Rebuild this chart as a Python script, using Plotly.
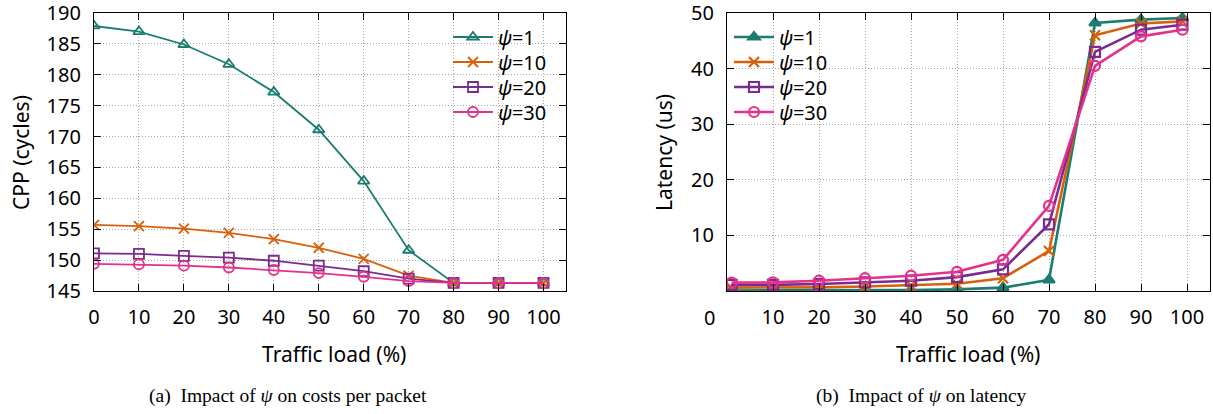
import plotly.graph_objects as go

# ---------------- data ----------------
load_a = [0, 10, 20, 30, 40, 50, 60, 70, 80, 90, 100]
cpp_psi1 = [187.9, 187.0, 184.9, 181.7, 177.2, 171.1, 162.8, 151.6, 146.3, 146.3, 146.3]
cpp_psi10 = [155.7, 155.5, 155.1, 154.4, 153.4, 152.0, 150.2, 147.5, 146.3, 146.3, 146.3]
cpp_psi20 = [151.1, 151.0, 150.7, 150.4, 149.9, 149.1, 148.2, 147.0, 146.3, 146.3, 146.3]
cpp_psi30 = [149.4, 149.3, 149.1, 148.8, 148.4, 147.9, 147.3, 146.6, 146.3, 146.3, 146.3]

load_b = [1, 10, 20, 30, 40, 50, 60, 70, 80, 90, 99]
lat_psi1 = [0.1, 0.1, 0.1, 0.15, 0.15, 0.3, 0.6, 2.0, 48.2, 48.8, 49.1]
lat_psi10 = [0.6, 0.6, 0.65, 0.8, 1.0, 1.3, 2.3, 7.2, 46.0, 48.1, 48.5]
lat_psi20 = [1.1, 1.1, 1.25, 1.55, 1.85, 2.5, 3.9, 12.0, 43.0, 47.0, 47.9]
lat_psi30 = [1.5, 1.55, 1.85, 2.3, 2.75, 3.45, 5.6, 15.3, 40.5, 45.8, 47.0]

names = ["<i>ψ</i>=1", "<i>ψ</i>=10", "<i>ψ</i>=20", "<i>ψ</i>=30"]
colors = ["#1a7d70", "#d9600a", "#7a2b8e", "#e4318c"]
symbols_a = ["triangle-up-open", "x-thin-open", "square-open", "circle-open"]
symbols_b = ["triangle-up", "x-thin-open", "square-open", "circle-open"]

x_ticks = [0, 10, 20, 30, 40, 50, 60, 70, 80, 90, 100]
x_ticks_b = [10, 20, 30, 40, 50, 60, 70, 80, 90, 100]
y_ticks_a = [145, 150, 155, 160, 165, 170, 175, 180, 185, 190]
y_ticks_b = [10, 20, 30, 40, 50]

W, H = 1213, 414
FONT = "Noto Sans"
FS = 20
legend_rows = [37, 62, 87, 112]  # vertical pixel centres of legend rows

fig = go.Figure()

for i, (ys, nm, c, s) in enumerate(zip([cpp_psi1, cpp_psi10, cpp_psi20, cpp_psi30],
                                       names, colors, symbols_a)):
    fig.add_trace(go.Scatter(
        x=load_a, y=ys, name=nm, mode="lines+markers", showlegend=True,
        line=dict(color=c, width=1.8),
        marker=dict(symbol=s, size=10, color=c, line=dict(color=c, width=1.8)),
        xaxis="x", yaxis="y", legend="legend" if i == 0 else f"legend{i + 1}"))

for i, (ys, nm, c, s) in enumerate(zip([lat_psi1, lat_psi10, lat_psi20, lat_psi30],
                                       names, colors, symbols_b)):
    fig.add_trace(go.Scatter(
        x=load_b, y=ys, name=nm, mode="lines+markers", showlegend=True,
        line=dict(color=c, width=2.6),
        marker=dict(symbol=s, size=10, color=c, line=dict(color=c, width=2.2)),
        xaxis="x2", yaxis="y2", legend=f"legend{i + 5}"))

ydom = [(H - 291) / H, (H - 13) / H]
axis_common = dict(
    showline=True, linecolor="black", linewidth=1.3, mirror="allticks",
    ticks="inside", ticklen=7, tickcolor="black", tickwidth=1,
    showgrid=True, gridcolor="#a8a8a8", griddash="1px,2px", gridwidth=1,
    zeroline=False, tickfont=dict(family=FONT, size=FS, color="black"),
    ticklabeloverflow="allow", automargin=False,
)

layout = dict(
    width=W, height=H, margin=dict(l=0, r=0, t=0, b=0, autoexpand=False),
    paper_bgcolor="white", plot_bgcolor="white", showlegend=True,
    font=dict(family=FONT, size=FS, color="black"),
    xaxis=dict(domain=[94 / W, 566 / W], range=[0, 105], tickvals=x_ticks,
               ticklabelstandoff=8, anchor="y", **axis_common),
    yaxis=dict(domain=ydom, range=[145, 190], tickvals=y_ticks_a,
               ticklabelstandoff=8, anchor="x", **axis_common),
    xaxis2=dict(domain=[727 / W, 1210 / W], range=[0, 105], tickvals=x_ticks_b,
                ticklabelstandoff=8, anchor="y2", **axis_common),
    yaxis2=dict(domain=ydom, range=[0, 50], tickvals=y_ticks_b,
                ticklabelstandoff=8, anchor="x2", **axis_common),
)
for i, row in enumerate(legend_rows):
    key_a = "legend" if i == 0 else f"legend{i + 1}"
    layout[key_a] = dict(x=448 / W, y=(H - row) / H, xanchor="left", yanchor="middle",
                         bgcolor="rgba(0,0,0,0)", font=dict(family=FONT, size=20),
                         itemwidth=40, tracegroupgap=0, visible=True)
    layout[f"legend{i + 5}"] = dict(x=729 / W, y=(H - row) / H, xanchor="left",
                                    yanchor="middle", bgcolor="rgba(0,0,0,0)",
                                    font=dict(family=FONT, size=20),
                                    itemwidth=40, tracegroupgap=0, visible=True)
fig.update_layout(**layout)

annos = [
    dict(text="CPP (cycles)", x=21 / W, y=(H - 153) / H, textangle=-90,
         font=dict(family=FONT, size=21)),
    dict(text="Latency (us)", x=664 / W, y=(H - 153) / H, textangle=-90,
         font=dict(family=FONT, size=21)),
    dict(text="Traffic load (%)", x=334 / W, y=(H - 354) / H,
         font=dict(family=FONT, size=21)),
    dict(text="Traffic load (%)", x=968 / W, y=(H - 354) / H,
         font=dict(family=FONT, size=21)),
    dict(text="0", x=710 / W, y=(H - 317) / H, font=dict(family=FONT, size=FS)),
    dict(text="(a)  Impact of <i>ψ</i> on costs per packet", x=288 / W, y=(H - 396) / H,
         font=dict(family="Liberation Serif", size=19.5)),
    dict(text="(b)  Impact of <i>ψ</i> on latency", x=921 / W, y=(H - 396) / H,
         font=dict(family="Liberation Serif", size=19.5)),
]
for a in annos:
    fig.add_annotation(xref="paper", yref="paper", showarrow=False,
                       xanchor="center", yanchor="middle", **a)

fig.write_html("out.html")
